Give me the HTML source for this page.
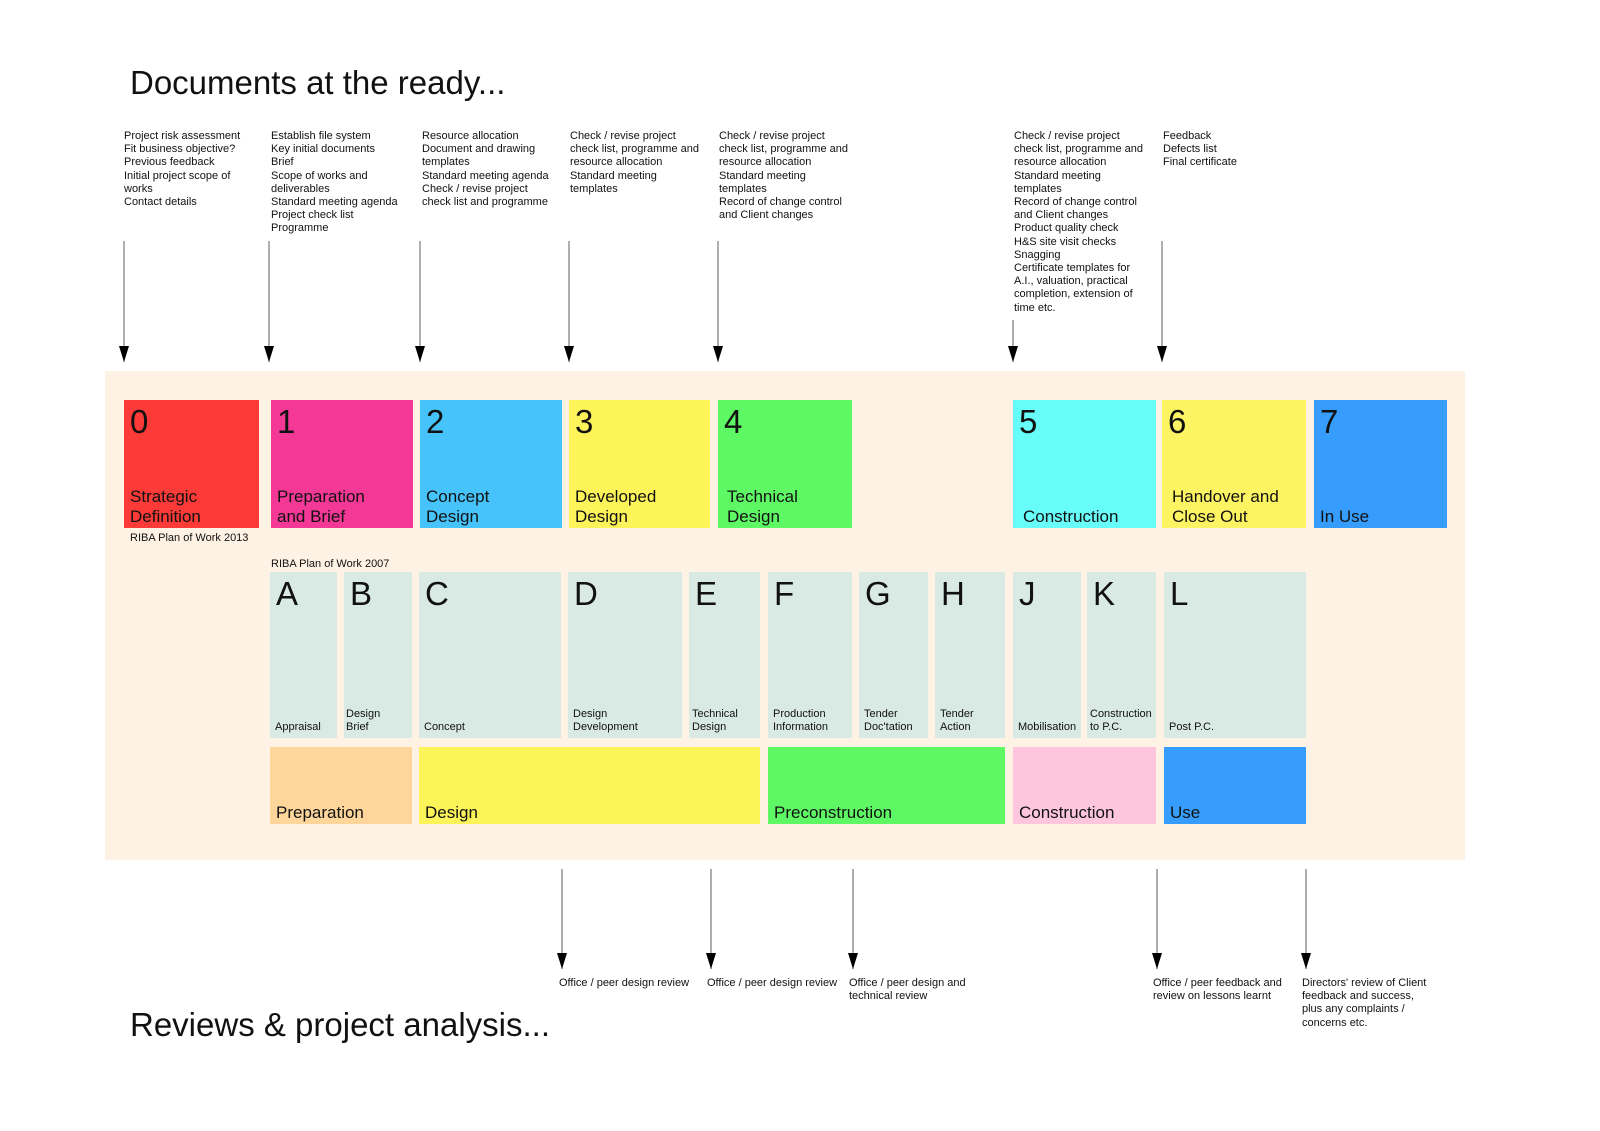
<!DOCTYPE html>
<html><head><meta charset="utf-8"><style>
body{margin:0;width:1600px;height:1131px;background:#fff;position:relative;overflow:hidden;font-family:"Liberation Sans",Arial,sans-serif;color:#111}
.a{position:absolute}
.t{position:absolute;font-size:11px;line-height:13.2px;white-space:nowrap}
.b{position:absolute;box-sizing:border-box}
.n{position:absolute;left:6px;top:2px;font-size:33px;line-height:40px}
.l{position:absolute;left:6px;bottom:2px;font-size:17px;line-height:19.5px}
.s{position:absolute;left:5px;bottom:4px;font-size:11px;line-height:13px}
</style></head><body>
<div class="a" style="left:130px;top:64px;font-size:33px">Documents at the ready...</div>

<div class="t" style="left:124px;top:130px">Project risk assessment<br>Fit business objective?<br>Previous feedback<br>Initial project scope of<br>works<br>Contact details</div>
<div class="t" style="left:271px;top:130px">Establish file system<br>Key initial documents<br>Brief<br>Scope of works and<br>deliverables<br>Standard meeting agenda<br>Project check list<br>Programme</div>
<div class="t" style="left:422px;top:130px">Resource allocation<br>Document and drawing<br>templates<br>Standard meeting agenda<br>Check / revise project<br>check list and programme</div>
<div class="t" style="left:570px;top:130px">Check / revise project<br>check list, programme and<br>resource allocation<br>Standard meeting<br>templates</div>
<div class="t" style="left:719px;top:130px">Check / revise project<br>check list, programme and<br>resource allocation<br>Standard meeting<br>templates<br>Record of change control<br>and Client changes</div>
<div class="t" style="left:1014px;top:130px">Check / revise project<br>check list, programme and<br>resource allocation<br>Standard meeting<br>templates<br>Record of change control<br>and Client changes<br>Product quality check<br>H&amp;S site visit checks<br>Snagging<br>Certificate templates for<br>A.I., valuation, practical<br>completion, extension of<br>time etc.</div>
<div class="t" style="left:1163px;top:130px">Feedback<br>Defects list<br>Final certificate</div>

<svg class="a" style="left:0;top:0" width="1600" height="1131">
<defs><marker id="m" markerWidth="10" markerHeight="14" refX="5" refY="14" orient="auto-start-reverse" markerUnits="userSpaceOnUse"><path d="M0,0 L10,0 L5,14z" fill="#000"/></marker></defs>
<g stroke="#777" stroke-width="1.2">
<line x1="124" y1="241" x2="124" y2="362"/><line x1="269" y1="241" x2="269" y2="362"/><line x1="420" y1="241" x2="420" y2="362"/><line x1="569" y1="241" x2="569" y2="362"/><line x1="718" y1="241" x2="718" y2="362"/><line x1="1013" y1="320" x2="1013" y2="362"/><line x1="1162" y1="241" x2="1162" y2="362"/>
<line x1="562" y1="869" x2="562" y2="969"/><line x1="711" y1="869" x2="711" y2="969"/><line x1="853" y1="869" x2="853" y2="969"/><line x1="1157" y1="869" x2="1157" y2="969"/><line x1="1306" y1="869" x2="1306" y2="969"/>
</g>
<g fill="#000">
<path d="M119,346h10l-5,16z"/><path d="M264,346h10l-5,16z"/><path d="M415,346h10l-5,16z"/><path d="M564,346h10l-5,16z"/><path d="M713,346h10l-5,16z"/><path d="M1008,346h10l-5,16z"/><path d="M1157,346h10l-5,16z"/>
<path d="M557,953h10l-5,16z"/><path d="M706,953h10l-5,16z"/><path d="M848,953h10l-5,16z"/><path d="M1152,953h10l-5,16z"/><path d="M1301,953h10l-5,16z"/>
</g></svg>

<div class="b" style="left:105px;top:371px;width:1360px;height:489px;background:#fef2e5"></div>

<div class="b" style="left:124px;top:400px;width:135px;height:128px;background:#fc3a37"><div class="n">0</div><div class="l">Strategic<br>Definition</div></div>
<div class="b" style="left:271px;top:400px;width:142px;height:128px;background:#f43896"><div class="n">1</div><div class="l">Preparation<br>and Brief</div></div>
<div class="b" style="left:420px;top:400px;width:142px;height:128px;background:#45c3fa"><div class="n">2</div><div class="l">Concept<br>Design</div></div>
<div class="b" style="left:569px;top:400px;width:141px;height:128px;background:#fdf45a"><div class="n">3</div><div class="l">Developed<br>Design</div></div>
<div class="b" style="left:718px;top:400px;width:134px;height:128px;background:#5ff865"><div class="n">4</div><div class="l" style="left:9px">Technical<br>Design</div></div>
<div class="b" style="left:1013px;top:400px;width:143px;height:128px;background:#67fdf9"><div class="n">5</div><div class="l" style="left:10px">Construction</div></div>
<div class="b" style="left:1162px;top:400px;width:144px;height:128px;background:#fdf463"><div class="n">6</div><div class="l" style="left:10px">Handover and<br>Close Out</div></div>
<div class="b" style="left:1314px;top:400px;width:133px;height:128px;background:#379dfd"><div class="n">7</div><div class="l">In Use</div></div>

<div class="t" style="left:130px;top:532px">RIBA Plan of Work 2013</div>
<div class="t" style="left:271px;top:558px">RIBA Plan of Work 2007</div>

<div class="b" style="left:270px;top:572px;width:67px;height:166px;background:#d9e9e3"><div class="n">A</div><div class="s">Appraisal</div></div>
<div class="b" style="left:344px;top:572px;width:68px;height:166px;background:#d9e9e3"><div class="n">B</div><div class="s" style="left:2px">Design<br>Brief</div></div>
<div class="b" style="left:419px;top:572px;width:142px;height:166px;background:#d9e9e3"><div class="n">C</div><div class="s">Concept</div></div>
<div class="b" style="left:568px;top:572px;width:114px;height:166px;background:#d9e9e3"><div class="n">D</div><div class="s">Design<br>Development</div></div>
<div class="b" style="left:689px;top:572px;width:71px;height:166px;background:#d9e9e3"><div class="n">E</div><div class="s" style="left:3px">Technical<br>Design</div></div>
<div class="b" style="left:768px;top:572px;width:84px;height:166px;background:#d9e9e3"><div class="n">F</div><div class="s">Production<br>Information</div></div>
<div class="b" style="left:859px;top:572px;width:69px;height:166px;background:#d9e9e3"><div class="n">G</div><div class="s">Tender<br>Doc'tation</div></div>
<div class="b" style="left:935px;top:572px;width:70px;height:166px;background:#d9e9e3"><div class="n">H</div><div class="s">Tender<br>Action</div></div>
<div class="b" style="left:1013px;top:572px;width:68px;height:166px;background:#d9e9e3"><div class="n">J</div><div class="s">Mobilisation</div></div>
<div class="b" style="left:1087px;top:572px;width:69px;height:166px;background:#d9e9e3"><div class="n">K</div><div class="s" style="left:3px">Construction<br>to P.C.</div></div>
<div class="b" style="left:1164px;top:572px;width:142px;height:166px;background:#d9e9e3"><div class="n">L</div><div class="s">Post P.C.</div></div>

<div class="b" style="left:270px;top:747px;width:142px;height:77px;background:#fed69c"><div class="l">Preparation</div></div>
<div class="b" style="left:419px;top:747px;width:341px;height:77px;background:#fdf45a"><div class="l">Design</div></div>
<div class="b" style="left:768px;top:747px;width:237px;height:77px;background:#5ff865"><div class="l">Preconstruction</div></div>
<div class="b" style="left:1013px;top:747px;width:143px;height:77px;background:#fdc6dd"><div class="l">Construction</div></div>
<div class="b" style="left:1164px;top:747px;width:142px;height:77px;background:#379dfd"><div class="l">Use</div></div>

<div class="t" style="left:559px;top:977px">Office / peer design review</div>
<div class="t" style="left:707px;top:977px">Office / peer design review</div>
<div class="t" style="left:849px;top:977px">Office / peer design and<br>technical review</div>
<div class="t" style="left:1153px;top:977px">Office / peer feedback and<br>review on lessons learnt</div>
<div class="t" style="left:1302px;top:977px">Directors' review of Client<br>feedback and success,<br>plus any complaints /<br>concerns etc.</div>

<div class="a" style="left:130px;top:1006px;font-size:33px">Reviews &amp; project analysis...</div>
</body></html>
